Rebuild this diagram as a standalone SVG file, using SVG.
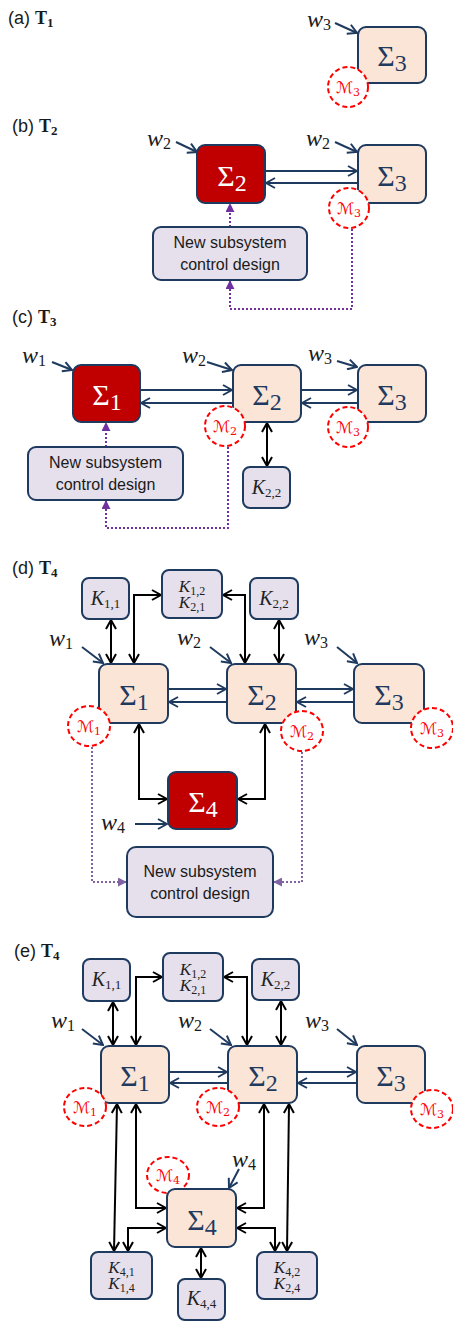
<svg xmlns="http://www.w3.org/2000/svg" width="453" height="1322" viewBox="0 0 453 1322">
<style>
.box{stroke:#1F3A5F;stroke-width:2}
.sys{fill:#FBE5D6}
.new{fill:#C00000}
.ctl{fill:#E6E0EC}
.sig{font-family:"Liberation Serif",serif;font-size:30px;fill:#1F3A5F;text-anchor:middle}
.sigw{fill:#FFFFFF}
.ss{font-size:24px}
.w{font-family:"Liberation Serif",serif;font-style:italic;font-size:24px;fill:#1a1a1a}
.ws{font-style:normal;font-size:16px}
.k{font-family:"Liberation Serif",serif;font-style:italic;font-size:20px;fill:#222;text-anchor:middle}
.k2{font-size:17px}
.ks{font-style:normal;font-size:13px}
.ks2{font-style:normal;font-size:12px}
.m{font-family:"DejaVu Serif","DejaVu Sans",serif;font-style:italic;font-size:16px;fill:#FF0000;text-anchor:middle}
.ms{font-style:normal;font-size:11px}
.mc{fill:#FFFFFF;stroke:#FF0000;stroke-width:2;stroke-dasharray:5 3}
.lab{font-family:"Liberation Sans",sans-serif;font-size:18px;fill:#1a1a1a}
.tb{font-family:"Liberation Serif",serif;font-weight:bold;font-size:18px}
.tbs{font-size:13px}
.txt{font-family:"Liberation Sans",sans-serif;font-size:16px;fill:#1a1a1a;text-anchor:middle}
.cn{fill:none;stroke:#1F3A5F;stroke-width:2;marker-end:url(#an)}
.ck{fill:none;stroke:#000;stroke-width:2;marker-start:url(#ak);marker-end:url(#ak)}
.dp{fill:none;stroke:#7030A0;stroke-width:2;stroke-dasharray:2 2;marker-end:url(#ap)}
.dq{fill:none;stroke:#8064A2;stroke-width:2;stroke-dasharray:2 2;marker-end:url(#aq)}
</style>
<defs>
<marker id="an" viewBox="0 0 12 12" refX="11" refY="6" markerWidth="12" markerHeight="12" orient="auto" markerUnits="userSpaceOnUse"><path d="M2,1 L11,6 L2,11" fill="none" stroke="#1F3A5F" stroke-width="2"/></marker>
<marker id="ak" viewBox="0 0 12 12" refX="11" refY="6" markerWidth="12" markerHeight="12" orient="auto-start-reverse" markerUnits="userSpaceOnUse"><path d="M2,1 L11,6 L2,11" fill="none" stroke="#000" stroke-width="2"/></marker>
<marker id="ap" viewBox="0 0 10 10" refX="9" refY="5" markerWidth="9" markerHeight="9" orient="auto" markerUnits="userSpaceOnUse"><path d="M0,0 L10,5 L0,10 z" fill="#7030A0"/></marker>
<marker id="aq" viewBox="0 0 10 10" refX="9" refY="5" markerWidth="9" markerHeight="9" orient="auto" markerUnits="userSpaceOnUse"><path d="M0,0 L10,5 L0,10 z" fill="#8064A2"/></marker>
</defs>

<g id="labels">
<text class="lab" x="8" y="24">(a)  <tspan class="tb">T<tspan class="tbs" dy="3">1</tspan></tspan></text>
<text class="lab" x="12" y="132">(b) <tspan class="tb">T<tspan class="tbs" dy="3">2</tspan></tspan></text>
<text class="lab" x="12" y="323">(c) <tspan class="tb">T<tspan class="tbs" dy="3">3</tspan></tspan></text>
<text class="lab" x="12" y="574">(d) <tspan class="tb">T<tspan class="tbs" dy="3">4</tspan></tspan></text>
<text class="lab" x="14" y="957">(e) <tspan class="tb">T<tspan class="tbs" dy="3">4</tspan></tspan></text>
</g>

<g id="connectors">
<line class="cn" x1="335" y1="23" x2="357" y2="33"/>
<line class="cn" x1="176" y1="142" x2="197" y2="152"/>
<line class="cn" x1="335" y1="142" x2="357" y2="152"/>
<line class="cn" x1="265" y1="171" x2="357" y2="171"/>
<line class="cn" x1="358" y1="183" x2="266" y2="183"/>
<path class="dp" d="M230,227 V204"/>
<path class="dp" d="M352,229 V309 H230 V281"/>
<line class="cn" x1="52" y1="362" x2="72" y2="370"/>
<line class="cn" x1="207" y1="362" x2="232" y2="370"/>
<line class="cn" x1="337" y1="361" x2="357" y2="367"/>
<line class="cn" x1="140" y1="390" x2="232" y2="390"/>
<line class="cn" x1="233" y1="403" x2="141" y2="403"/>
<line class="cn" x1="301" y1="390" x2="357" y2="390"/>
<line class="cn" x1="358" y1="403" x2="302" y2="403"/>
<line class="ck" x1="267" y1="423" x2="267" y2="466"/>
<path class="dp" d="M106,447 V423"/>
<path class="dp" d="M228,447 V528 H106 V501"/>
<line class="cn" x1="82" y1="647" x2="103" y2="663"/>
<line class="cn" x1="210" y1="647" x2="231" y2="663"/>
<line class="cn" x1="337" y1="647" x2="357" y2="663"/>
<line class="cn" x1="135" y1="824" x2="167" y2="824"/>
<line class="cn" x1="168" y1="689" x2="226" y2="689"/>
<line class="cn" x1="227" y1="702" x2="169" y2="702"/>
<line class="cn" x1="296" y1="689" x2="353" y2="689"/>
<line class="cn" x1="354" y1="702" x2="297" y2="702"/>
<line class="ck" x1="111" y1="620" x2="111" y2="663"/>
<path class="ck" d="M134,663 V595 H161"/>
<path class="ck" d="M223,595 H245 V663"/>
<line class="ck" x1="279" y1="620" x2="279" y2="663"/>
<path class="ck" d="M139,724 V799 H167"/>
<path class="ck" d="M265,724 V799 H238"/>
<path class="dq" d="M92,747 V882 H126"/>
<path class="dq" d="M302,752 V882 H274"/>
<line class="cn" x1="82" y1="1029" x2="103" y2="1045"/>
<line class="cn" x1="210" y1="1029" x2="231" y2="1045"/>
<line class="cn" x1="337" y1="1029" x2="357" y2="1045"/>
<line class="cn" x1="239" y1="1169" x2="229" y2="1188"/>
<line class="cn" x1="169" y1="1072" x2="227" y2="1072"/>
<line class="cn" x1="228" y1="1083" x2="170" y2="1083"/>
<line class="cn" x1="297" y1="1072" x2="356" y2="1072"/>
<line class="cn" x1="357" y1="1083" x2="298" y2="1083"/>
<line class="ck" x1="113" y1="1002" x2="113" y2="1045"/>
<path class="ck" d="M136,1045 V977 H162"/>
<path class="ck" d="M224,977 H247 V1045"/>
<line class="ck" x1="281" y1="1001" x2="281" y2="1045"/>
<line class="ck" x1="117" y1="1104" x2="114" y2="1251"/>
<path class="ck" d="M136,1104 V1208 H166"/>
<path class="ck" d="M264,1104 V1208 H237"/>
<line class="ck" x1="289" y1="1104" x2="287" y2="1251"/>
<path class="ck" d="M166,1228 H128 V1251"/>
<path class="ck" d="M237,1228 H275 V1251"/>
<line class="ck" x1="201" y1="1248" x2="201" y2="1278"/>
</g>

<g id="a-sigma3"><rect class="box sys" x="358" y="27" width="68" height="56" rx="8"/><text class="sig" x="392" y="66">Σ<tspan class="ss" dy="5">3</tspan></text></g>
<g id="a-w3"><text class="w" x="307" y="27">w<tspan class="ws" dy="3">3</tspan></text></g>
<g id="a-m3"><circle class="mc" cx="348" cy="87" r="20"/><text class="m" x="348" y="93">ℳ<tspan class="ms" dy="3">3</tspan></text></g>

<g id="b-sigma2"><rect class="box new" x="197" y="145" width="68" height="58" rx="8"/><text class="sig sigw" x="232" y="186">Σ<tspan class="ss" dy="5">2</tspan></text></g>
<g id="b-sigma3"><rect class="box sys" x="358" y="145" width="68" height="58" rx="8"/><text class="sig" x="392" y="186">Σ<tspan class="ss" dy="5">3</tspan></text></g>
<g id="b-w2a"><text class="w" x="147" y="146">w<tspan class="ws" dy="3">2</tspan></text></g>
<g id="b-w2b"><text class="w" x="306" y="146">w<tspan class="ws" dy="3">2</tspan></text></g>
<g id="b-m3"><circle class="mc" cx="349" cy="208" r="20"/><text class="m" x="349" y="214">ℳ<tspan class="ms" dy="3">3</tspan></text></g>
<g id="b-design"><rect class="box ctl" x="153" y="227" width="154" height="53" rx="8"/><text class="txt" x="230" y="248">New subsystem</text><text class="txt" x="230" y="270">control design</text></g>

<g id="c-sigma1"><rect class="box new" x="73" y="365" width="67" height="57" rx="8"/><text class="sig sigw" x="107" y="405">Σ<tspan class="ss" dy="5">1</tspan></text></g>
<g id="c-sigma2"><rect class="box sys" x="233" y="365" width="68" height="57" rx="8"/><text class="sig" x="267" y="405">Σ<tspan class="ss" dy="5">2</tspan></text></g>
<g id="c-sigma3"><rect class="box sys" x="358" y="365" width="68" height="57" rx="8"/><text class="sig" x="392" y="405">Σ<tspan class="ss" dy="5">3</tspan></text></g>
<g id="c-w1"><text class="w" x="22" y="363">w<tspan class="ws" dy="3">1</tspan></text></g>
<g id="c-w2"><text class="w" x="182" y="363">w<tspan class="ws" dy="3">2</tspan></text></g>
<g id="c-w3"><text class="w" x="308" y="361">w<tspan class="ws" dy="3">3</tspan></text></g>
<g id="c-m2"><circle class="mc" cx="225" cy="426" r="20"/><text class="m" x="225" y="432">ℳ<tspan class="ms" dy="3">2</tspan></text></g>
<g id="c-m3"><circle class="mc" cx="348" cy="427" r="20"/><text class="m" x="348" y="433">ℳ<tspan class="ms" dy="3">3</tspan></text></g>
<g id="c-k22"><rect class="box ctl" x="243" y="467" width="47" height="41" rx="7"/><text class="k" x="266.5" y="494">K<tspan class="ks" dy="3">2,2</tspan></text></g>
<g id="c-design"><rect class="box ctl" x="28" y="447" width="155" height="53" rx="8"/><text class="txt" x="105.5" y="468">New subsystem</text><text class="txt" x="105.5" y="490">control design</text></g>

<g id="d-k11"><rect class="box ctl" x="82" y="578" width="47" height="41" rx="7"/><text class="k" x="105.5" y="605">K<tspan class="ks" dy="3">1,1</tspan></text></g>
<g id="d-k12"><rect class="box ctl" x="162" y="570" width="60" height="48" rx="7"/><text class="k k2" x="192" y="591.5">K<tspan class="ks2" dy="3">1,2</tspan></text><text class="k k2" x="192" y="608">K<tspan class="ks2" dy="3">2,1</tspan></text></g>
<g id="d-k22"><rect class="box ctl" x="250" y="578" width="48" height="41" rx="7"/><text class="k" x="274" y="605">K<tspan class="ks" dy="3">2,2</tspan></text></g>
<g id="d-sigma1"><rect class="box sys" x="99" y="664" width="69" height="59" rx="8"/><text class="sig" x="134" y="705">Σ<tspan class="ss" dy="5">1</tspan></text></g>
<g id="d-sigma2"><rect class="box sys" x="227" y="664" width="69" height="59" rx="8"/><text class="sig" x="262" y="705">Σ<tspan class="ss" dy="5">2</tspan></text></g>
<g id="d-sigma3"><rect class="box sys" x="354" y="664" width="70" height="59" rx="8"/><text class="sig" x="389" y="705">Σ<tspan class="ss" dy="5">3</tspan></text></g>
<g id="d-w1"><text class="w" x="49" y="646">w<tspan class="ws" dy="3">1</tspan></text></g>
<g id="d-w2"><text class="w" x="177" y="645">w<tspan class="ws" dy="3">2</tspan></text></g>
<g id="d-w3"><text class="w" x="304" y="645">w<tspan class="ws" dy="3">3</tspan></text></g>
<g id="d-m1"><ellipse class="mc" cx="89" cy="726" rx="21" ry="20"/><text class="m" x="89" y="732">ℳ<tspan class="ms" dy="3">1</tspan></text></g>
<g id="d-m2"><ellipse class="mc" cx="302" cy="731" rx="21" ry="20"/><text class="m" x="302" y="737">ℳ<tspan class="ms" dy="3">2</tspan></text></g>
<g id="d-m3"><ellipse class="mc" cx="432" cy="728" rx="21" ry="20"/><text class="m" x="432" y="734">ℳ<tspan class="ms" dy="3">3</tspan></text></g>
<g id="d-sigma4"><rect class="box new" x="168" y="772" width="69" height="57" rx="8"/><text class="sig sigw" x="203" y="812">Σ<tspan class="ss" dy="5">4</tspan></text></g>
<g id="d-w4"><text class="w" x="101" y="830">w<tspan class="ws" dy="3">4</tspan></text></g>
<g id="d-design"><rect class="box ctl" x="127" y="847" width="146" height="70" rx="9"/><text class="txt" x="200" y="877">New subsystem</text><text class="txt" x="200" y="899">control design</text></g>

<g id="e-k11"><rect class="box ctl" x="83" y="959" width="47" height="42" rx="7"/><text class="k" x="106.5" y="986">K<tspan class="ks" dy="3">1,1</tspan></text></g>
<g id="e-k12"><rect class="box ctl" x="163" y="953" width="60" height="48" rx="7"/><text class="k k2" x="193" y="974.5">K<tspan class="ks2" dy="3">1,2</tspan></text><text class="k k2" x="193" y="991">K<tspan class="ks2" dy="3">2,1</tspan></text></g>
<g id="e-k22"><rect class="box ctl" x="252" y="959" width="47" height="41" rx="7"/><text class="k" x="275.5" y="986">K<tspan class="ks" dy="3">2,2</tspan></text></g>
<g id="e-sigma1"><rect class="box sys" x="101" y="1046" width="68" height="57" rx="8"/><text class="sig" x="135" y="1086">Σ<tspan class="ss" dy="5">1</tspan></text></g>
<g id="e-sigma2"><rect class="box sys" x="228" y="1046" width="69" height="57" rx="8"/><text class="sig" x="263" y="1086">Σ<tspan class="ss" dy="5">2</tspan></text></g>
<g id="e-sigma3"><rect class="box sys" x="357" y="1046" width="68" height="57" rx="8"/><text class="sig" x="391" y="1086">Σ<tspan class="ss" dy="5">3</tspan></text></g>
<g id="e-w1"><text class="w" x="51" y="1028">w<tspan class="ws" dy="3">1</tspan></text></g>
<g id="e-w2"><text class="w" x="178" y="1028">w<tspan class="ws" dy="3">2</tspan></text></g>
<g id="e-w3"><text class="w" x="305" y="1028">w<tspan class="ws" dy="3">3</tspan></text></g>
<g id="e-m1"><ellipse class="mc" cx="85" cy="1107" rx="21" ry="19"/><text class="m" x="85" y="1113">ℳ<tspan class="ms" dy="3">1</tspan></text></g>
<g id="e-m2"><ellipse class="mc" cx="218" cy="1107" rx="21" ry="19"/><text class="m" x="218" y="1113">ℳ<tspan class="ms" dy="3">2</tspan></text></g>
<g id="e-m3"><ellipse class="mc" cx="432" cy="1109" rx="21" ry="19"/><text class="m" x="432" y="1115">ℳ<tspan class="ms" dy="3">3</tspan></text></g>
<g id="e-m4"><ellipse class="mc" cx="168" cy="1175" rx="21" ry="18"/><text class="m" x="168" y="1181">ℳ<tspan class="ms" dy="3">4</tspan></text></g>
<g id="e-sigma4"><rect class="box sys" x="167" y="1189" width="69" height="58" rx="8"/><text class="sig" x="202" y="1230">Σ<tspan class="ss" dy="5">4</tspan></text></g>
<g id="e-w4"><text class="w" x="232" y="1167">w<tspan class="ws" dy="3">4</tspan></text></g>
<g id="e-k41"><rect class="box ctl" x="91" y="1252" width="61" height="47" rx="7"/><text class="k k2" x="121.5" y="1272.5">K<tspan class="ks2" dy="3">4,1</tspan></text><text class="k k2" x="121.5" y="1289">K<tspan class="ks2" dy="3">1,4</tspan></text></g>
<g id="e-k44"><rect class="box ctl" x="178" y="1279" width="47" height="41" rx="7"/><text class="k" x="201.5" y="1305">K<tspan class="ks" dy="3">4,4</tspan></text></g>
<g id="e-k42"><rect class="box ctl" x="257" y="1252" width="60" height="47" rx="7"/><text class="k k2" x="287" y="1272.5">K<tspan class="ks2" dy="3">4,2</tspan></text><text class="k k2" x="287" y="1289">K<tspan class="ks2" dy="3">2,4</tspan></text></g>
</svg>
